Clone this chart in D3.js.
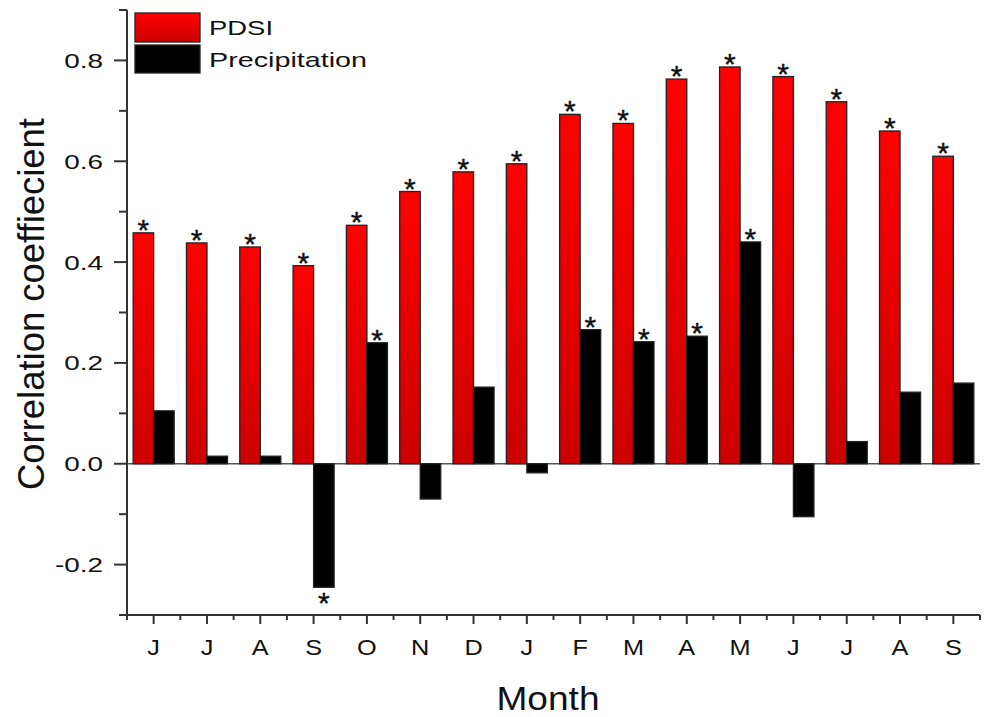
<!DOCTYPE html>
<html><head><meta charset="utf-8">
<script src="https://cdn.jsdelivr.net/npm/d3@7"></script>
<style>body{margin:0;background:#fff}svg{display:block;font-family:Arial,"Liberation Sans",sans-serif}</style>
</head><body><svg id="c" width="988" height="717"></svg>
<script>
const months = ["J","J","A","S","O","N","D","J","F","M","A","M","J","J","A","S"];
const pdsi = [0.458,0.438,0.430,0.393,0.473,0.540,0.579,0.595,0.693,0.675,0.763,0.787,0.768,0.718,0.660,0.610];
const precip = [0.105,0.015,0.015,-0.245,0.240,-0.070,0.152,-0.018,0.266,0.242,0.253,0.440,-0.105,0.044,0.142,0.160];
const pdsiSig = [1,1,1,1,1,1,1,1,1,1,1,1,1,1,1,1];
const precipSig = [0,0,0,1,1,0,0,0,1,1,1,1,0,0,0,0];
const seriesNames = ["PDSI","Precipitation"];
const yMajorTicks = [-0.2,0.0,0.2,0.4,0.6,0.8];
const yMinorTicks = [-0.3,-0.1,0.1,0.3,0.5,0.7,0.9];

const svg = d3.select("#c");
const L=127, R=980, T=10, B=615;
const idx = d3.range(months.length);
const x0 = d3.scaleBand().domain(idx).range([L,R]).paddingInner(0.23).paddingOuter(0.115);
const x1 = d3.scaleBand().domain(seriesNames).range([0,x0.bandwidth()]);
const y = d3.scaleLinear().domain([-0.3,0.9]).range([B,T]);
const step = x0.step();
const center = i => x0(i) + x0.bandwidth()/2;

const defs = svg.append("defs");
const g = defs.append("linearGradient").attr("id","redg").attr("x1",0).attr("y1",0).attr("x2",0).attr("y2",1);
g.append("stop").attr("offset","0%").attr("stop-color","#ff0000");
g.append("stop").attr("offset","100%").attr("stop-color","#cc0000");

const axisCol="#333";
svg.append("line").attr("x1",L).attr("x2",R).attr("y1",y(0)).attr("y2",y(0)).attr("stroke","#555").attr("stroke-width",1.5);

const data = idx.map(i=>({i, vals:[pdsi[i],precip[i]], sig:[pdsiSig[i],precipSig[i]]}));
const grp = svg.append("g").selectAll("g").data(data).join("g").attr("transform",d=>`translate(${x0(d.i)},0)`);
grp.selectAll("rect").data(d=>d.vals.map((v,k)=>({v,k}))).join("rect")
  .attr("x",d=>x1(seriesNames[d.k]))
  .attr("width",x1.bandwidth())
  .attr("y",d=>y(Math.max(0,d.v)))
  .attr("height",d=>Math.abs(y(d.v)-y(0)))
  .attr("fill",d=>d.k===0?"url(#redg)":"#000")
  .attr("stroke","#222").attr("stroke-width",1.3);
grp.selectAll("text").data(d=>d.vals.map((v,k)=>({v,k,s:d.sig[k]})).filter(e=>e.s)).join("text")
  .attr("x",d=>x1(seriesNames[d.k])+x1.bandwidth()/2)
  .attr("y",d=>d.v>=0 ? y(d.v)+7 : y(d.v)+26)
  .attr("text-anchor","middle").attr("font-size",30).attr("fill","#111")
  .attr("stroke","#111").attr("stroke-width",0.4).text("*");

const ya = svg.append("g");
ya.append("line").attr("x1",L).attr("x2",L).attr("y1",T).attr("y2",B+1).attr("stroke",axisCol).attr("stroke-width",2);
ya.selectAll(".maj").data(yMajorTicks).join("line").attr("x1",L-13).attr("x2",L).attr("y1",d=>y(d)).attr("y2",d=>y(d)).attr("stroke",axisCol).attr("stroke-width",2);
ya.selectAll(".min").data(yMinorTicks).join("line").attr("x1",L-8).attr("x2",L).attr("y1",d=>y(d)).attr("y2",d=>y(d)).attr("stroke",axisCol).attr("stroke-width",2);
ya.selectAll("text").data(yMajorTicks).join("text")
  .attr("transform",d=>`translate(103,${y(d)}) scale(1.33,1)`)
  .attr("dy","0.36em").attr("text-anchor","end").attr("font-size",21).attr("fill","#111")
  .text(d=>d3.format(".1f")(d).replace("−","-"));

const xa = svg.append("g");
xa.append("line").attr("x1",L-2).attr("x2",R).attr("y1",B).attr("y2",B).attr("stroke",axisCol).attr("stroke-width",2);
xa.selectAll(".maj").data(idx).join("line").attr("x1",d=>center(d)).attr("x2",d=>center(d)).attr("y1",B).attr("y2",B+9).attr("stroke",axisCol).attr("stroke-width",2);
xa.selectAll(".min").data(d3.range(months.length+1)).join("line").attr("x1",d=>L+d*step).attr("x2",d=>L+d*step).attr("y1",B).attr("y2",B+5).attr("stroke",axisCol).attr("stroke-width",2);
xa.selectAll("text").data(idx).join("text")
  .attr("transform",d=>`translate(${center(d)},655) scale(1.15,1)`)
  .attr("text-anchor","middle").attr("font-size",22).attr("fill","#111").text(d=>months[d]);

svg.append("text").attr("x",548).attr("y",710).attr("text-anchor","middle").attr("font-size",33)
  .attr("textLength",103).attr("lengthAdjust","spacingAndGlyphs").attr("fill","#111").text("Month");
svg.append("text").attr("transform","translate(44,304) rotate(-90)").attr("text-anchor","middle").attr("font-size",36)
  .attr("textLength",372).attr("lengthAdjust","spacingAndGlyphs").attr("fill","#111").text("Correlation coeffiecient");

const leg = svg.append("g");
const legItems = [{name:seriesNames[0],fill:"url(#redg)",y:13,h:29,w:64},{name:seriesNames[1],fill:"#000",y:45,h:28,w:158}];
leg.selectAll("rect").data(legItems).join("rect").attr("x",135).attr("y",d=>d.y).attr("width",65).attr("height",d=>d.h)
  .attr("fill",d=>d.fill).attr("stroke","#222").attr("stroke-width",1.3);
leg.selectAll("text").data(legItems).join("text").attr("x",209).attr("y",d=>d.y+d.h/2).attr("dy","0.36em")
  .attr("font-size",21).attr("textLength",d=>d.w).attr("lengthAdjust","spacingAndGlyphs").attr("fill","#111").text(d=>d.name);
</script></body></html>
